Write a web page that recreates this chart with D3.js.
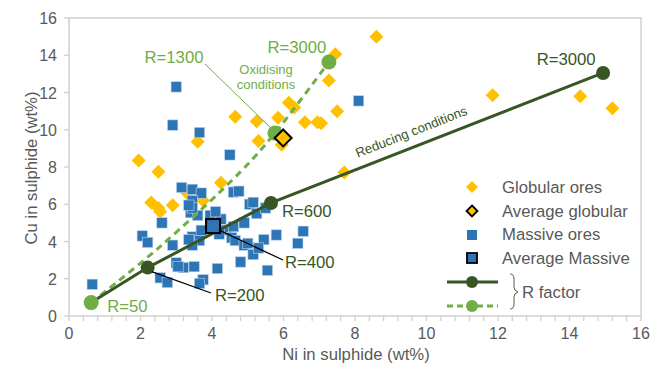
<!DOCTYPE html>
<html>
<head>
<meta charset="utf-8">
<script src="https://cdn.jsdelivr.net/npm/d3@7"></script>
<style>
  body { margin: 0; background: #fff; }
  svg { display: block; font-family: "Liberation Sans", Arial, sans-serif; }
</style>
</head>
<body>
<svg id="chart" width="651" height="373"></svg>
<script>
// globular ores (yellow diamonds)
const niGlobular = [8.6, 7.45, 7.27, 6.15, 6.3, 7.5, 5.85, 4.65, 5.25, 6.6, 6.95, 7.05, 5.3, 5.95,
  3.6, 1.95, 2.5, 7.7, 4.25, 2.3, 2.5, 2.9, 2.55, 3.75, 3.3, 11.85, 14.3, 15.2];
const cuGlobular = [15.0, 14.05, 12.65, 11.45, 11.2, 11.0, 10.65, 10.7, 10.45, 10.4, 10.4, 10.35, 9.4, 9.2,
  9.35, 8.35, 7.75, 7.7, 7.15, 6.1, 5.8, 5.95, 5.6, 6.2, 6.6, 11.85, 11.8, 11.15];

// massive ores (blue squares)
const niMassive = [0.65, 2.05, 2.2, 2.6, 2.9, 2.55, 2.75, 3.0, 2.9, 3.65, 4.5, 8.1,
  3.15, 3.45, 3.7, 3.45, 3.4, 3.6, 3.95, 3.45, 3.35,
  4.6, 4.75, 5.05, 5.25, 5.5, 5.15,
  3.45, 3.7, 3.65, 3.45, 3.35,
  4.4, 4.6, 4.9, 4.55, 4.65, 4.9, 5.0, 5.45, 5.8, 6.55, 6.4, 5.15, 4.8, 5.55, 5.3,
  3.0, 3.2, 3.5, 4.15, 3.75, 3.65, 3.05, 4.2, 4.25, 4.1];
const cuMassive = [1.7, 4.3, 3.95, 5.0, 3.8, 2.05, 1.8, 12.3, 10.25, 9.85, 8.65, 11.55,
  6.9, 6.8, 6.6, 6.2, 5.55, 5.4, 5.4, 5.8, 5.95,
  6.65, 6.7, 6.0, 5.5, 5.8, 6.1,
  4.25, 4.6, 4.05, 3.8, 4.1,
  4.6, 4.8, 5.0, 4.2, 4.05, 3.8, 3.9, 4.1, 4.35, 4.55, 3.9, 3.3, 2.9, 2.45, 3.65,
  2.85, 2.6, 2.65, 2.55, 1.95, 1.75, 2.65, 4.4, 5.2, 5.6];

const avgGlobular = [5.99, 9.56];
const avgMassive = [4.03, 4.83];

// R factor curves (null R = no marker)
const reducingR = [50, 200, 600, 3000];
const reducingNi = [0.62, 2.2, 5.65, 14.94];
const reducingCu = [0.72, 2.6, 6.07, 13.05];
const oxidisingR = [50, null, null, 1300, 3000];
const oxidisingNi = [0.62, 2.5, 4.8, 5.76, 7.27];
const oxidisingCu = [0.72, 3.65, 7.75, 9.82, 13.64];

const xTicks = [0, 2, 4, 6, 8, 10, 12, 14, 16];
const yTicks = [0, 2, 4, 6, 8, 10, 12, 14, 16];

const gold = "#ffc000", blue = "#2e75b6", darkGreen = "#375623", lightGreen = "#70ad47";
const textCol = "#595959", gridCol = "#d0d0d0";

const svg = d3.select("#chart");
const x = d3.scaleLinear().domain([0, 16]).range([69, 641]);
const y = d3.scaleLinear().domain([0, 16]).range([316, 18]);

// frame
svg.append("rect")
  .attr("x", x(0)).attr("y", y(16))
  .attr("width", x(16) - x(0)).attr("height", y(0) - y(16))
  .attr("fill", "none").attr("stroke", gridCol).attr("stroke-width", 1.5);

// x axis minor ticks every 0.4
svg.append("g").selectAll("line")
  .data(d3.range(0, 16.01, 0.4))
  .enter().append("line")
  .attr("x1", d => x(d)).attr("x2", d => x(d))
  .attr("y1", y(0)).attr("y2", y(0) + 5)
  .attr("stroke", gridCol).attr("stroke-width", 1.3);

svg.append("g").selectAll("text")
  .data(xTicks)
  .enter().append("text")
  .attr("x", d => x(d)).attr("y", 339)
  .attr("text-anchor", "middle")
  .attr("font-size", 16).attr("fill", textCol)
  .text(d => d);

// y axis
svg.append("g").selectAll("line")
  .data(yTicks)
  .enter().append("line")
  .attr("x1", x(0) - 5).attr("x2", x(0))
  .attr("y1", d => y(d)).attr("y2", d => y(d))
  .attr("stroke", gridCol).attr("stroke-width", 1.3);

svg.append("g").selectAll("text")
  .data(yTicks)
  .enter().append("text")
  .attr("x", 57).attr("y", d => y(d) + 6)
  .attr("text-anchor", "end")
  .attr("font-size", 16).attr("fill", textCol)
  .text(d => d);

// axis titles
svg.append("text")
  .attr("x", 356).attr("y", 360)
  .attr("text-anchor", "middle")
  .attr("font-size", 16.7).attr("fill", textCol)
  .text("Ni in sulphide (wt%)");

svg.append("text")
  .attr("transform", "translate(37,168) rotate(-90)")
  .attr("text-anchor", "middle")
  .attr("font-size", 16.7).attr("fill", textCol)
  .text("Cu in sulphide (wt%)");

// globular ores
svg.append("g").selectAll("path")
  .data(niGlobular.map((d, i) => [d, cuGlobular[i]]))
  .enter().append("path")
  .attr("d", "M0,-7L7,0L0,7L-7,0Z")
  .attr("transform", d => "translate(" + x(d[0]) + "," + y(d[1]) + ")")
  .attr("fill", gold);

// massive ores
svg.append("g").selectAll("rect")
  .data(niMassive.map((d, i) => [d, cuMassive[i]]))
  .enter().append("rect")
  .attr("x", d => x(d[0]) - 5.2).attr("y", d => y(d[1]) - 5.2)
  .attr("width", 10.4).attr("height", 10.4)
  .attr("fill", blue).attr("stroke", "#bdd7ee").attr("stroke-width", 0.6);

// R factor lines
const oxPts = oxidisingNi.map((d, i) => [d, oxidisingCu[i], oxidisingR[i]]);
const redPts = reducingNi.map((d, i) => [d, reducingCu[i], reducingR[i]]);

svg.append("path")
  .datum(oxPts)
  .attr("d", d3.line().x(d => x(d[0])).y(d => y(d[1])).curve(d3.curveCatmullRom))
  .attr("fill", "none").attr("stroke", lightGreen)
  .attr("stroke-width", 3).attr("stroke-dasharray", "7,5");

svg.append("path")
  .datum(redPts)
  .attr("d", d3.line().x(d => x(d[0])).y(d => y(d[1])))
  .attr("fill", "none").attr("stroke", darkGreen).attr("stroke-width", 3);

svg.append("g").selectAll("circle")
  .data(redPts.filter(d => d[2] !== null && d[2] !== 50))
  .enter().append("circle")
  .attr("cx", d => x(d[0])).attr("cy", d => y(d[1]))
  .attr("r", 7).attr("fill", darkGreen);

svg.append("g").selectAll("circle")
  .data(oxPts.filter(d => d[2] !== null))
  .enter().append("circle")
  .attr("cx", d => x(d[0])).attr("cy", d => y(d[1]))
  .attr("r", 7.5).attr("fill", lightGreen);

// averages
svg.append("path")
  .attr("d", "M0,-8.5L8.5,0L0,8.5L-8.5,0Z")
  .attr("transform", "translate(" + x(avgGlobular[0]) + "," + y(avgGlobular[1]) + ")")
  .attr("fill", gold).attr("stroke", "#000").attr("stroke-width", 2);

svg.append("rect")
  .attr("x", x(avgMassive[0]) - 7).attr("y", y(avgMassive[1]) - 7)
  .attr("width", 14).attr("height", 14)
  .attr("fill", blue).attr("stroke", "#000").attr("stroke-width", 2);

// annotations
function label(txt, px, py, col, size, anchor) {
  svg.append("text").attr("x", px).attr("y", py)
    .attr("text-anchor", anchor || "start")
    .attr("font-size", size).attr("fill", col).text(txt);
}
function leader(x1, y1, x2, y2, col, w) {
  svg.append("line").attr("x1", x1).attr("y1", y1).attr("x2", x2).attr("y2", y2)
    .attr("stroke", col).attr("stroke-width", w);
}

const r1300 = oxPts[3], r3000o = oxPts[4];
leader(205, 64, x(r1300[0]) - 4, y(r1300[1]) - 5, lightGreen, 1);
label("R=1300", 174, 63, lightGreen, 16.7, "middle");
label("R=3000", x(r3000o[0]) - 32, y(r3000o[1]) - 9, lightGreen, 16.7, "middle");
label("Oxidising", 266, 74, lightGreen, 13, "middle");
label("conditions", 266, 88.5, lightGreen, 13, "middle");

const r3000r = redPts[3], r600 = redPts[2], r200 = redPts[1];
label("R=3000", x(r3000r[0]) - 37, y(r3000r[1]) - 8, darkGreen, 16.7, "middle");
label("R=600", x(r600[0]) + 11, y(r600[1]) + 14, darkGreen, 16.7, "start");
leader(x(avgMassive[0]) + 6, y(avgMassive[1]) + 4, 283, 260, "#000", 1.3);
label("R=400", 285, 268, darkGreen, 16.7, "start");
leader(x(r200[0]) + 4, y(r200[1]) + 4, 211, 293, "#000", 1.3);
label("R=200", 215, 301, darkGreen, 16.7, "start");
label("R=50", x(oxPts[0][0]) + 16, y(oxPts[0][1]) + 9, lightGreen, 16.7, "start");

svg.append("text")
  .attr("transform", "translate(413,136) rotate(-21.5)")
  .attr("text-anchor", "middle")
  .attr("font-size", 13.2).attr("fill", darkGreen)
  .text("Reducing conditions");

// legend
const lg = svg.append("g");
const lx = 472, tx = 502;
lg.append("path").attr("d", "M0,-6L6,0L0,6L-6,0Z")
  .attr("transform", "translate(" + lx + ",187)").attr("fill", gold);
lg.append("path").attr("d", "M0,-5.5L5.5,0L0,5.5L-5.5,0Z")
  .attr("transform", "translate(" + lx + ",211)").attr("fill", gold)
  .attr("stroke", "#000").attr("stroke-width", 1.8);
lg.append("rect").attr("x", lx - 5).attr("y", 230).attr("width", 10).attr("height", 10).attr("fill", blue);
lg.append("rect").attr("x", lx - 5).attr("y", 253).attr("width", 10).attr("height", 10)
  .attr("fill", blue).attr("stroke", "#000").attr("stroke-width", 1.8);
lg.append("line").attr("x1", 447).attr("x2", 498).attr("y1", 282).attr("y2", 282)
  .attr("stroke", darkGreen).attr("stroke-width", 3);
lg.append("circle").attr("cx", lx).attr("cy", 282).attr("r", 6).attr("fill", darkGreen);
lg.append("line").attr("x1", 447).attr("x2", 498).attr("y1", 306).attr("y2", 306)
  .attr("stroke", lightGreen).attr("stroke-width", 3).attr("stroke-dasharray", "6,4");
lg.append("circle").attr("cx", lx).attr("cy", 306).attr("r", 6).attr("fill", lightGreen);

["Globular ores", "Average globular", "Massive ores", "Average Massive"].forEach((t, i) => {
  lg.append("text").attr("x", tx).attr("y", 193 + i * 23.7)
    .attr("font-size", 16.7).attr("fill", textCol).text(t);
});
lg.append("path")
  .attr("d", "M510,274 Q514,274 514,279 L514,287 Q514,291 518,292 Q514,293 514,297 L514,304 Q514,309 510,309")
  .attr("fill", "none").attr("stroke", textCol).attr("stroke-width", 1);
lg.append("text").attr("x", 522).attr("y", 298)
  .attr("font-size", 16.7).attr("fill", textCol).text("R factor");
</script>
</body>
</html>
